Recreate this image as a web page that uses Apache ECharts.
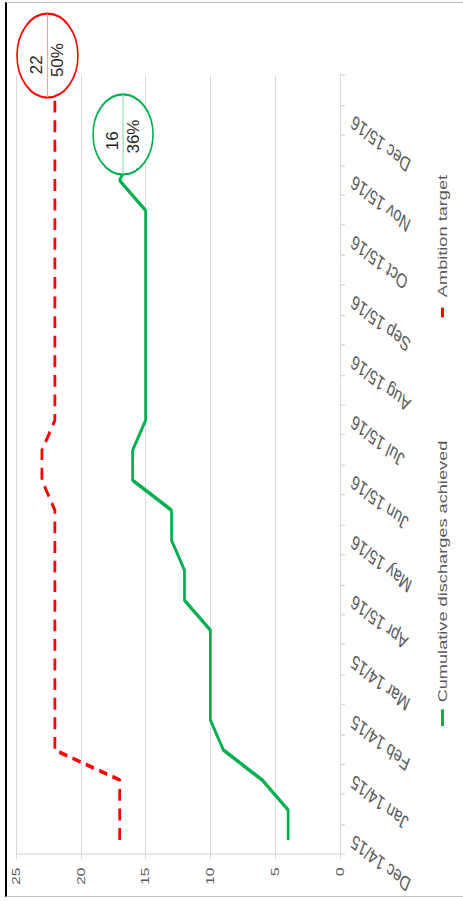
<!DOCTYPE html>
<html>
<head>
<meta charset="utf-8">
<script src="https://cdn.jsdelivr.net/npm/echarts@6/dist/echarts.min.js"></script>
<style>
  html, body { margin: 0; padding: 0; background: #fff; }
  body { width: 463px; height: 901px; position: relative; overflow: hidden; }
  /* outer picture frame */
  #frame {
    position: absolute; left: 5px; top: 2px; width: 458px; height: 895px;
    box-sizing: border-box;
    border-top: 1px solid #bdbdbd; border-bottom: 1px solid #bdbdbd; border-left: 2px solid #000;
  }
  /* the chart is laid out landscape, stretched along its category axis and turned a quarter left */
  #chart {
    position: absolute; left: 0; top: 901px; width: 644px; height: 463px;
    transform-origin: 0 0; transform: rotate(-90deg) scaleX(1.399);
  }
</style>
</head>
<body>
<div id="frame"></div>
<div id="chart"></div>
<script>
// Half-monthly reporting points; only every other one carries a label
const categories = [
  'Dec 14/15', '', 'Jan 14/15', '', 'Feb 14/15', '', 'Mar 14/15', '',
  'Apr 15/16', '', 'May 15/16', '', 'Jun 15/16', '', 'Jul 15/16', '',
  'Aug 15/16', '', 'Sep 15/16', '', 'Oct 15/16', '', 'Nov 15/16', '',
  'Dec 15/16', ''
];

// Cumulative discharges achieved so far
const achieved = [4, 4, 6, 9, 10, 10, 10, 10, 12, 12, 13, 13, 16, 16, 15, 15, 15, 15, 15, 15, 15, 15, 17, 16];

// Ambition target
const ambition = [17, 17, 17, 22, 22, 22, 22, 22, 22, 22, 22, 22, 23, 23, 22, 22, 22, 22, 22, 22, 22, 22, 22, 22, 22, 22];

// Share of the full-year goal reached by the latest value of each series
const achievedShare = '36%';
const ambitionShare = '50%';

const valueMin = 0;
const valueMax = 25;
const valueStep = 5;

const seriesNames = ['Cumulative discharges achieved', 'Ambition target'];

// ---------------------------------------------------------------------------
const STRETCH = 1.399;
const FONT = '"Liberation Sans", Arial, sans-serif';
const GREEN = '#00b050';
const RED = '#ff0000';
const GRIDLINE = '#d9d9d9';
const LABEL = '#595959';

// bubbles pinned to the last point of each series
const callouts = [
  { idx: achieved.length - 1, value: achieved[achieved.length - 1], share: achievedShare },
  { idx: ambition.length - 1, value: ambition[ambition.length - 1], share: ambitionShare }
];
const calloutLook = [
  { dx: 11.5, dy: -9.6, rx: 28.6, ry: 30, stroke: GREEN, divider: '#7fd8a7', t1: -4.5, t2: -1.5 },
  { dx: 25, dy: -7.4, rx: 30, ry: 30.5, stroke: RED, divider: '#ff9f9f', t1: -6.5, t2: -3.2 }
];

const chart = echarts.init(document.getElementById('chart'), null, {
  renderer: 'svg', width: 644, height: 463
});

chart.setOption({
  animation: false,
  backgroundColor: 'transparent',
  textStyle: { fontFamily: FONT },
  grid: { left: 32.9, right: 54, top: 16, bottom: 123, containLabel: false, outerBoundsMode: 'none' },
  legend: {
    data: [
      { name: seriesNames[0], icon: 'rect', itemStyle: { color: GREEN } },
      { name: seriesNames[1], icon: 'path://M0,0h7v3h-7z', itemStyle: { color: RED } }
    ],
    left: 120, top: 431,
    itemGap: 88, itemWidth: 12, itemHeight: 3,
    textStyle: { color: LABEL, fontSize: 13, fontFamily: FONT }
  },
  xAxis: {
    type: 'category',
    data: categories,
    boundaryGap: true,
    axisLine: { show: true, lineStyle: { color: GRIDLINE, width: 1 } },
    axisTick: { show: true, interval: 0, length: 5, lineStyle: { color: GRIDLINE, width: 1 } },
    axisLabel: { interval: 1, rotate: 60, margin: 12, color: LABEL, fontSize: 14.5, fontFamily: FONT },
    splitLine: { show: false }
  },
  yAxis: {
    type: 'value',
    min: valueMin, max: valueMax, interval: valueStep,
    axisLine: { show: true, lineStyle: { color: GRIDLINE, width: 1 } },
    axisTick: { show: true, length: 3, lineStyle: { color: GRIDLINE, width: 1 } },
    axisLabel: { color: LABEL, fontSize: 11, margin: 9, fontFamily: FONT },
    splitLine: { show: true, lineStyle: { color: GRIDLINE, width: 1 } }
  },
  series: [
    {
      name: seriesNames[0],
      type: 'line',
      data: achieved,
      symbol: 'none',
      lineStyle: { color: GREEN, width: 2.75 },
      itemStyle: { color: GREEN },
      z: 3
    },
    {
      name: seriesNames[1],
      type: 'line',
      data: ambition,
      symbol: 'none',
      lineStyle: { color: RED, width: 2.75, type: [8.5, 5.5] },
      itemStyle: { color: RED },
      z: 2
    },
    {
      type: 'custom',
      clip: false,
      z: 10,
      silent: true,
      data: callouts.map(c => [c.idx, c.value]),
      renderItem: function (params, api) {
        const c = callouts[params.dataIndex];
        const look = calloutLook[params.dataIndex];
        const p = api.coord([api.value(0), api.value(1)]);
        const cx = p[0] + look.dx;
        const cy = p[1] + look.dy;
        const txt = (s, x, y) => ({
          type: 'text', x: x, y: y, scaleX: 1 / STRETCH,
          style: {
            text: s, fill: '#262626', fontSize: 17, fontFamily: FONT,
            align: 'center', verticalAlign: 'middle',
            textAlign: 'center', textVerticalAlign: 'middle'
          }
        });
        return {
          type: 'group',
          children: [
            { type: 'ellipse', shape: { cx: cx, cy: cy, rx: look.rx, ry: look.ry },
              style: { fill: '#fff', stroke: look.stroke, lineWidth: 1.6 } },
            { type: 'line', shape: { x1: cx - look.rx, y1: cy, x2: cx + look.rx, y2: cy },
              style: { stroke: look.divider, lineWidth: 1 } },
            txt(String(c.value), cx + look.t1, cy - 11),
            txt(c.share, cx + look.t2, cy + 10)
          ]
        };
      }
    }
  ]
});
</script>
</body>
</html>
